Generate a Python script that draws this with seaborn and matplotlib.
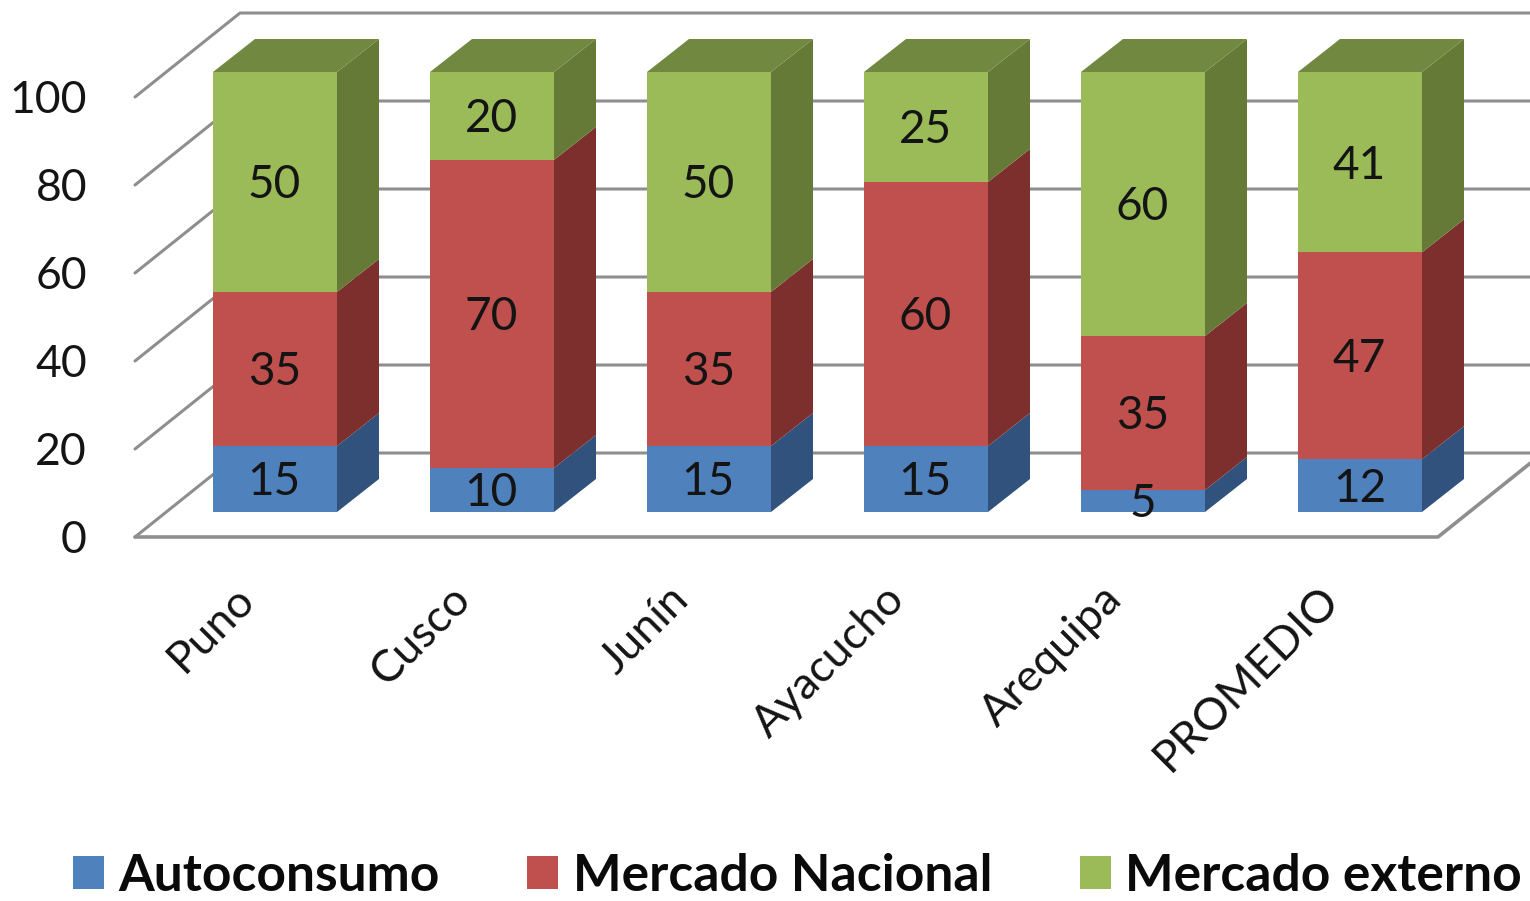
import matplotlib
matplotlib.use("Agg")
import matplotlib.pyplot as plt
from matplotlib.patches import Polygon
import pandas as pd
import seaborn as sns

# Share of production by destination, per region
regions = ["Puno", "Cusco", "Junín", "Ayacucho", "Arequipa", "PROMEDIO"]
autoconsumo = [15, 10, 15, 15, 5, 12]
mercado_nacional = [35, 70, 35, 60, 35, 47]
mercado_externo = [50, 20, 50, 25, 60, 41]
y_ticks = [0, 20, 40, 60, 80, 100]

series = [
    ("Autoconsumo", autoconsumo, "#4F81BD", "#30527C", None),
    ("Mercado Nacional", mercado_nacional, "#C0504D", "#7C2F2D", None),
    ("Mercado externo", mercado_externo, "#9BBB59", "#667A37", "#70883F"),
]

W, H = 1530, 901
FONT = ["Lato", "DejaVu Sans"]
sns.set_theme(style="white")
plt.rcParams["font.family"] = FONT

fig = plt.figure(figsize=(W / 100, H / 100), dpi=100)
ax = fig.add_axes([0, 0, 1, 1])

# One category step is 217 px and one percentage point 4.4 px on this canvas
STEP, UNIT = 217.0, 4.4
X0, Y0 = 275.0, 512.0
BAR_W = 124 / STEP
DEPTH_X, DEPTH_Y = 42 / STEP, 33 / UNIT          # bar extrusion
WALL_X, WALL_Y = 105 / STEP, 84 / UNIT           # chart box extrusion
FRONT_X = (135 - X0) / STEP                      # front-left corner of the floor
FRONT_RIGHT = (1438 - X0) / STEP                 # front-right corner of the floor
FRONT_Y = -25 / UNIT                             # floor front sits below the bar base

df = pd.DataFrame({"region": regions})
bottom = [0.0] * len(regions)
GRID = "#8E8E8E"
INK = "#141414"

# Chart box: side wall, back wall and floor
for v in y_ticks:
    y = v + FRONT_Y
    ax.plot([FRONT_X, FRONT_X + WALL_X, FRONT_RIGHT + WALL_X + 1],
            [y, y + WALL_Y, y + WALL_Y],
            color=GRID, lw=2.2, zorder=1, solid_joinstyle="miter")
ax.plot([FRONT_X, FRONT_RIGHT, FRONT_RIGHT + WALL_X],
        [FRONT_Y, FRONT_Y, FRONT_Y + WALL_Y], color=GRID, lw=2.6, zorder=1)

# Stacked front faces, then the shaded side and top of each bar
for name, values, face, side, top in series:
    df[name] = values
    sns.barplot(data=df, x="region", y=name, bottom=bottom, color=face, saturation=1,
                width=BAR_W, errorbar=None, label=name, linewidth=0, ax=ax, zorder=3)
    for i, (v, b) in enumerate(zip(values, bottom)):
        right = i + BAR_W / 2
        ax.add_patch(Polygon([(right, b), (right + DEPTH_X, b + DEPTH_Y),
                              (right + DEPTH_X, b + v + DEPTH_Y), (right, b + v)],
                             closed=True, fc=side, ec="none", zorder=2.5))
        if top:
            left = i - BAR_W / 2
            ax.add_patch(Polygon([(left, b + v), (right, b + v),
                                  (right + DEPTH_X, b + v + DEPTH_Y),
                                  (left + DEPTH_X, b + v + DEPTH_Y)],
                                 closed=True, fc=top, ec="none", zorder=2.5))
    value_labels = ax.bar_label(ax.containers[-1], label_type="center", fontsize=33,
                                color=INK, zorder=5)
    for label in value_labels:
        label.xyann = (-0.5, -2.4)   # optical centring of the digits, in points
    bottom = [b + v for b, v in zip(bottom, values)]

ax.set_xlim(-X0 / STEP, (W - X0) / STEP)
ax.set_ylim((Y0 - H) / UNIT, Y0 / UNIT)
ax.axis("off")

# Value axis labels sit on the front edge of the side wall
for v in y_ticks:
    ax.text((87 - X0) / STEP, v + FRONT_Y - 3.5 / UNIT, str(v), ha="right", va="center",
            fontsize=32, color=INK)

# Slanted region labels end just under their bar
for i, name in enumerate(regions):
    ax.text(i - 42 / STEP, -66 / UNIT, name, rotation=45, ha="right", va="top",
            rotation_mode="anchor", fontsize=32.5, color=INK)

handles, labels = ax.get_legend_handles_labels()
ax.legend(handles, labels, ncols=3, loc="lower left", bbox_to_anchor=(73 / W, 1 - 900 / H),
          frameon=False, handlelength=0.6, handleheight=0.6,
          handletextpad=0.28, columnspacing=1.7, borderaxespad=0, borderpad=0,
          labelcolor="#0a0a0a", prop={"family": FONT, "size": 37.1, "weight": "bold"})

fig.savefig("out.png", dpi=100)
